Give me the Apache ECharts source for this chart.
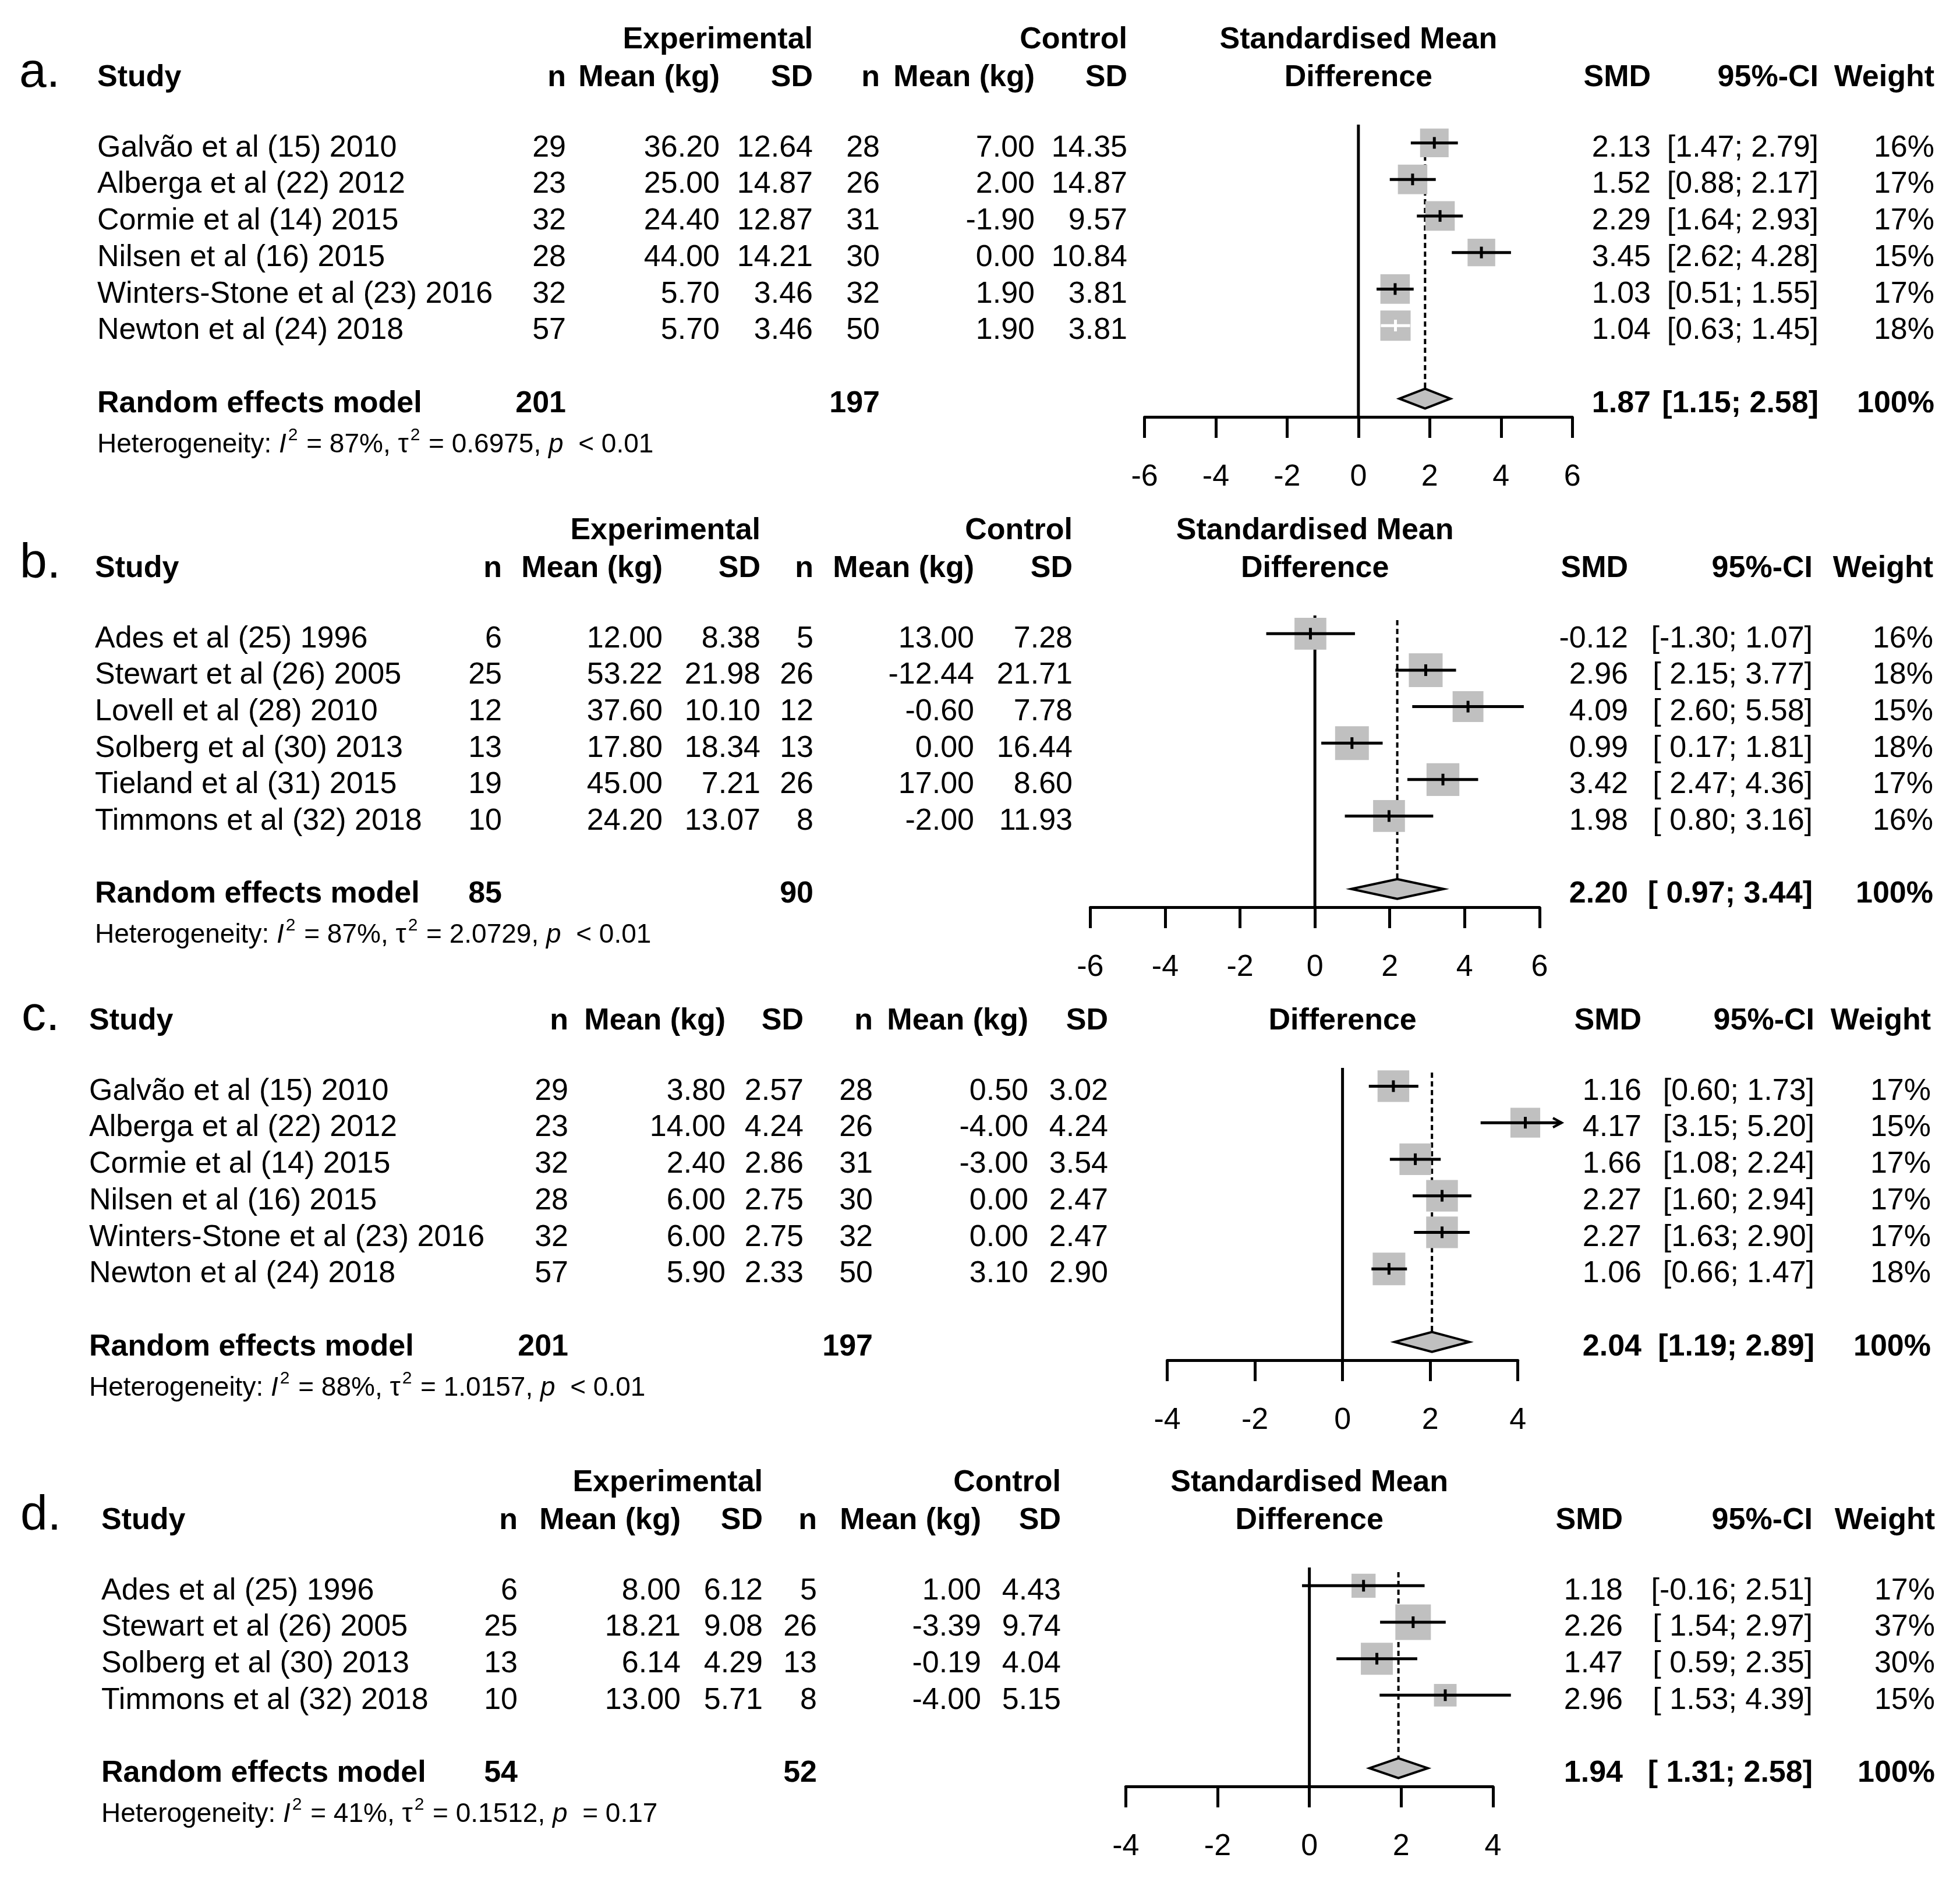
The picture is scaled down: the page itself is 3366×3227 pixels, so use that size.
<!DOCTYPE html>
<html><head><meta charset="utf-8">
<script src="https://cdn.jsdelivr.net/npm/echarts@6/dist/echarts.min.js"></script>
<style>html,body{margin:0;padding:0;background:#fff}#c{width:3366px;height:3227px}</style>
</head><body><div id="c"></div>
<script>
// ---------------- DATA ----------------
// Panel a
const studiesA = ["Galvão et al (15) 2010","Alberga et al (22) 2012","Cormie et al (14) 2015","Nilsen et al (16) 2015","Winters-Stone et al (23) 2016","Newton et al (24) 2018"];
const expNA = [29,23,32,28,32,57];
const expMeanA = [36.20,25.00,24.40,44.00,5.70,5.70];
const expSDA = [12.64,14.87,12.87,14.21,3.46,3.46];
const ctlNA = [28,26,31,30,32,50];
const ctlMeanA = [7.00,2.00,-1.90,0.00,1.90,1.90];
const ctlSDA = [14.35,14.87,9.57,10.84,3.81,3.81];
const smdA = [2.13,1.52,2.29,3.45,1.03,1.04];
const lowA = [1.47,0.88,1.64,2.62,0.51,0.63];
const upA = [2.79,2.17,2.93,4.28,1.55,1.45];
const weightA = [16,17,17,15,17,18];
const totalsA = [201,197];
const pooledA = [1.87,1.15,2.58];
const hetA = ["87%","0.6975","< 0.01"];
// Panel b
const studiesB = ["Ades et al (25) 1996","Stewart et al (26) 2005","Lovell et al (28) 2010","Solberg et al (30) 2013","Tieland et al (31) 2015","Timmons et al (32) 2018"];
const expNB = [6,25,12,13,19,10];
const expMeanB = [12.00,53.22,37.60,17.80,45.00,24.20];
const expSDB = [8.38,21.98,10.10,18.34,7.21,13.07];
const ctlNB = [5,26,12,13,26,8];
const ctlMeanB = [13.00,-12.44,-0.60,0.00,17.00,-2.00];
const ctlSDB = [7.28,21.71,7.78,16.44,8.60,11.93];
const smdB = [-0.12,2.96,4.09,0.99,3.42,1.98];
const lowB = [-1.30,2.15,2.60,0.17,2.47,0.80];
const upB = [1.07,3.77,5.58,1.81,4.36,3.16];
const weightB = [16,18,15,18,17,16];
const totalsB = [85,90];
const pooledB = [2.20,0.97,3.44];
const hetB = ["87%","2.0729","< 0.01"];
// Panel c
const studiesC = ["Galvão et al (15) 2010","Alberga et al (22) 2012","Cormie et al (14) 2015","Nilsen et al (16) 2015","Winters-Stone et al (23) 2016","Newton et al (24) 2018"];
const expNC = [29,23,32,28,32,57];
const expMeanC = [3.80,14.00,2.40,6.00,6.00,5.90];
const expSDC = [2.57,4.24,2.86,2.75,2.75,2.33];
const ctlNC = [28,26,31,30,32,50];
const ctlMeanC = [0.50,-4.00,-3.00,0.00,0.00,3.10];
const ctlSDC = [3.02,4.24,3.54,2.47,2.47,2.90];
const smdC = [1.16,4.17,1.66,2.27,2.27,1.06];
const lowC = [0.60,3.15,1.08,1.60,1.63,0.66];
const upC = [1.73,5.20,2.24,2.94,2.90,1.47];
const weightC = [17,15,17,17,17,18];
const totalsC = [201,197];
const pooledC = [2.04,1.19,2.89];
const hetC = ["88%","1.0157","< 0.01"];
// Panel d
const studiesD = ["Ades et al (25) 1996","Stewart et al (26) 2005","Solberg et al (30) 2013","Timmons et al (32) 2018"];
const expND = [6,25,13,10];
const expMeanD = [8.00,18.21,6.14,13.00];
const expSDD = [6.12,9.08,4.29,5.71];
const ctlND = [5,26,13,8];
const ctlMeanD = [1.00,-3.39,-0.19,-4.00];
const ctlSDD = [4.43,9.74,4.04,5.15];
const smdD = [1.18,2.26,1.47,2.96];
const lowD = [-0.16,1.54,0.59,1.53];
const upD = [2.51,2.97,2.35,4.39];
const weightD = [17,37,30,15];
const totalsD = [54,52];
const pooledD = [1.94,1.31,2.58];
const hetD = ["41%","0.1512","= 0.17"];

const colHeaders = ["Study","n","Mean (kg)","SD","n","Mean (kg)","SD","SMD","95%-CI","Weight"];
const groupHeaders = ["Experimental","Control","Standardised Mean","Difference"];
const modelLabel = "Random effects model";
const panelLabels = ["a.","b.","c.","d."];
const axisRanges = [[-6,6],[-6,6],[-4,4],[-4,4]];

// ---------------- LAYOUT ----------------
const FONT = "'Liberation Sans', Arial, Helvetica, sans-serif";
const layouts = [
  {grid:{left:1965.5,top:214,width:734.7,height:502}, labelX:33, sq:52, groups:true, arrowMax:null,
   cols:{study:167,expN:972,expMean:1236,expSD:1396,ctlN:1511,ctlMean:1777,ctlSD:1936,smd:2835,ci:3123,w:3322}},
  {grid:{left:1872.4,top:1057,width:771.5,height:501}, labelX:34, sq:58, groups:true, arrowMax:null,
   cols:{study:163,expN:862,expMean:1138,expSD:1306,ctlN:1397,ctlMean:1673,ctlSD:1842,smd:2796,ci:3113,w:3320}},
  {grid:{left:2004.5,top:1834,width:602.2,height:502}, labelX:37, sq:56, groups:false, arrowMax:5.0,
   cols:{study:153,expN:976,expMean:1246,expSD:1380,ctlN:1499,ctlMean:1766,ctlSD:1903,smd:2819,ci:3116,w:3316}},
  {grid:{left:1933.3,top:2692,width:630.7,height:376}, labelX:35, sq:61, groups:true, arrowMax:null,
   cols:{study:174,expN:889,expMean:1169,expSD:1310,ctlN:1403,ctlMean:1685,ctlSD:1822,smd:2787,ci:3113,w:3323}}
];

const panels = [
  {studies:studiesA,expN:expNA,expMean:expMeanA,expSD:expSDA,ctlN:ctlNA,ctlMean:ctlMeanA,ctlSD:ctlSDA,smd:smdA,low:lowA,up:upA,weight:weightA,totals:totalsA,pooled:pooledA,het:hetA},
  {studies:studiesB,expN:expNB,expMean:expMeanB,expSD:expSDB,ctlN:ctlNB,ctlMean:ctlMeanB,ctlSD:ctlSDB,smd:smdB,low:lowB,up:upB,weight:weightB,totals:totalsB,pooled:pooledB,het:hetB},
  {studies:studiesC,expN:expNC,expMean:expMeanC,expSD:expSDC,ctlN:ctlNC,ctlMean:ctlMeanC,ctlSD:ctlSDC,smd:smdC,low:lowC,up:upC,weight:weightC,totals:totalsC,pooled:pooledC,het:hetC},
  {studies:studiesD,expN:expND,expMean:expMeanD,expSD:expSDD,ctlN:ctlND,ctlMean:ctlMeanD,ctlSD:ctlSDD,smd:smdD,low:lowD,up:upD,weight:weightD,totals:totalsD,pooled:pooledD,het:hetD}
];

const FS = 52, TXT_DY = 9, GRAY = '#c0c0c0', LW = 5;
function txt(text, x, y, align, bold, size){
  return {type:'text', style:{text:String(text), x:x, y:y, align:align, verticalAlign:'middle',
    fontSize:size||FS, fontWeight:bold?'bold':'normal', fontFamily:FONT, fill:'#000'}};
}
function fmtCI(lo, hi, pad){
  const l = lo.toFixed(2);
  return '[' + (lo >= 0 && pad ? ' ' : '') + l + '; ' + hi.toFixed(2) + ']';
}

function headerRender(P, L, k){
  return function(params, api){
    const p0 = api.coord([0, 0.5]);
    const top = p0[1], y2 = top - 80, y1 = top - 145, C = L.cols;
    const ch = [];
    ch.push(txt(panelLabels[k], L.labelX, top - 88, 'left', false, 84));
    ch.push(txt(colHeaders[0], C.study, y2, 'left', true));
    ch.push(txt(colHeaders[1], C.expN, y2, 'right', true));
    ch.push(txt(colHeaders[2], C.expMean, y2, 'right', true));
    ch.push(txt(colHeaders[3], C.expSD, y2, 'right', true));
    ch.push(txt(colHeaders[4], C.ctlN, y2, 'right', true));
    ch.push(txt(colHeaders[5], C.ctlMean, y2, 'right', true));
    ch.push(txt(colHeaders[6], C.ctlSD, y2, 'right', true));
    ch.push(txt(colHeaders[7], C.smd, y2, 'right', true));
    ch.push(txt(colHeaders[8], C.ci, y2, 'right', true));
    ch.push(txt(colHeaders[9], C.w, y2, 'right', true));
    if (L.groups){
      ch.push(txt(groupHeaders[0], C.expSD, y1, 'right', true));
      ch.push(txt(groupHeaders[1], C.ctlSD, y1, 'right', true));
      ch.push(txt(groupHeaders[2], p0[0], y1, 'center', true));
    }
    ch.push(txt(groupHeaders[3], p0[0], y2, 'center', true));
    return {type:'group', children:ch};
  };
}

function refRender(P, L, n){
  return function(params, api){
    const est = api.value(0);
    const z0 = api.coord([0, 0.5]), z1 = api.coord([0, n + 2.5]);
    const d0 = api.coord([est, 0.5]), d1 = api.coord([est, n + 2]);
    return {type:'group', children:[
      {type:'line', shape:{x1:z0[0], y1:z0[1], x2:z1[0], y2:z1[1]}, style:{stroke:'#000', lineWidth:LW}},
      {type:'line', shape:{x1:d0[0], y1:d0[1] + 8, x2:d1[0], y2:d1[1] - 16}, style:{stroke:'#000', lineWidth:4, lineDash:[9,6]}}
    ]};
  };
}

function studyRender(P, L){
  const maxW = Math.max.apply(null, P.weight);
  const pad = P.low.some(v => v < 0) || P.pooled[1] < 0;
  return function(params, api){
    const i = params.dataIndex;
    const est = api.value(0), row = api.value(1), lo = api.value(2), hi = api.value(3), w = api.value(4);
    const c = api.coord([est, row]), pl = api.coord([lo, row]);
    let ph = api.coord([hi, row]);
    let arrow = false;
    if (L.arrowMax != null && hi > L.arrowMax){ ph = api.coord([L.arrowMax, row]); arrow = true; }
    const size = L.sq * Math.sqrt(w / maxW);
    const col = (ph[0] - pl[0]) < size ? '#fff' : '#000';
    const ch = [
      {type:'rect', shape:{x:c[0]-size/2, y:c[1]-size/2, width:size, height:size}, style:{fill:GRAY}},
      {type:'line', shape:{x1:pl[0], y1:c[1], x2:ph[0], y2:c[1]}, style:{stroke:col, lineWidth:LW}},
      {type:'line', shape:{x1:c[0], y1:c[1]-10, x2:c[0], y2:c[1]+10}, style:{stroke:col, lineWidth:LW}}
    ];
    if (arrow){
      ch.push({type:'polyline', shape:{points:[[ph[0]-15, c[1]-8],[ph[0], c[1]],[ph[0]-15, c[1]+8]]}, style:{stroke:'#000', fill:null, lineWidth:4}});
    }
    const y = c[1] + TXT_DY, C = L.cols;
    ch.push(txt(P.studies[i], C.study, y, 'left', false));
    ch.push(txt(P.expN[i], C.expN, y, 'right', false));
    ch.push(txt(P.expMean[i].toFixed(2), C.expMean, y, 'right', false));
    ch.push(txt(P.expSD[i].toFixed(2), C.expSD, y, 'right', false));
    ch.push(txt(P.ctlN[i], C.ctlN, y, 'right', false));
    ch.push(txt(P.ctlMean[i].toFixed(2), C.ctlMean, y, 'right', false));
    ch.push(txt(P.ctlSD[i].toFixed(2), C.ctlSD, y, 'right', false));
    ch.push(txt(est.toFixed(2), C.smd, y, 'right', false));
    ch.push(txt(fmtCI(lo, hi, pad), C.ci, y, 'right', false));
    ch.push(txt(w + '%', C.w, y, 'right', false));
    return {type:'group', children:ch};
  };
}

function modelRender(P, L){
  const pad = P.low.some(v => v < 0) || P.pooled[1] < 0;
  return function(params, api){
    const est = api.value(0), row = api.value(1), lo = api.value(2), hi = api.value(3);
    const c = api.coord([est, row]), pl = api.coord([lo, row]), ph = api.coord([hi, row]);
    const h = 17, C = L.cols, y = c[1] + TXT_DY;
    const ch = [
      {type:'polygon', shape:{points:[[pl[0], c[1]],[c[0], c[1]-h],[ph[0], c[1]],[c[0], c[1]+h]]},
       style:{fill:GRAY, stroke:'#000', lineWidth:4}},
      txt(modelLabel, C.study, y, 'left', true),
      txt(P.totals[0], C.expN, y, 'right', true),
      txt(P.totals[1], C.ctlN, y, 'right', true),
      txt(est.toFixed(2), C.smd, y, 'right', true),
      txt(fmtCI(lo, hi, pad), C.ci, y, 'right', true),
      txt('100%', C.w, y, 'right', true)
    ];
    const hs = 46;
    const base = {fontSize:hs, fontFamily:FONT, fill:'#000'};
    ch.push({type:'text', style:{
      text:'{n|Heterogeneity: }{i|I}{s|2}{n| = ' + P.het[0] + ', \u03c4}{s|2}{n| = ' + P.het[1] + ', }{i|p}{n|  ' + P.het[2] + '}',
      x:C.study, y:c[1] + 80, align:'left', verticalAlign:'middle', fontSize:hs, fontFamily:FONT, fill:'#000',
      rich:{
        n:Object.assign({}, base),
        i:Object.assign({}, base, {fontStyle:'italic'}),
        s:Object.assign({}, base, {fontSize:30, padding:[0,2,34,3]})
      }}});
    return {type:'group', children:ch};
  };
}

// ---------------- CHART ----------------
const grids = [], xAxes = [], yAxes = [], series = [];
panels.forEach(function(P, k){
  const L = layouts[k], n = P.studies.length;
  grids.push(Object.assign({outerBoundsMode:'none', containLabel:false}, L.grid));
  xAxes.push({gridIndex:k, type:'value', min:axisRanges[k][0], max:axisRanges[k][1], interval:2, position:'bottom',
    axisLine:{show:true, onZero:false, lineStyle:{color:'#000', width:LW}},
    axisTick:{show:true, length:36, lineStyle:{color:'#000', width:LW}},
    axisLabel:{fontSize:52, color:'#000', fontFamily:FONT, margin:78},
    splitLine:{show:false}});
  yAxes.push({gridIndex:k, type:'value', min:0.5, max:n + 2.5, inverse:true, show:false});
  series.push({type:'custom', xAxisIndex:k, yAxisIndex:k, z:1, clip:false, silent:true,
    data:[[P.pooled[0], 0]], renderItem:refRender(P, L, n)});
  series.push({type:'custom', xAxisIndex:k, yAxisIndex:k, z:2, clip:false, silent:true,
    data:P.smd.map((v, i) => [v, i + 1, P.low[i], P.up[i], P.weight[i]]), renderItem:studyRender(P, L)});
  series.push({type:'custom', xAxisIndex:k, yAxisIndex:k, z:3, clip:false, silent:true,
    data:[[P.pooled[0], n + 2, P.pooled[1], P.pooled[2]]], renderItem:modelRender(P, L)});
  series.push({type:'custom', xAxisIndex:k, yAxisIndex:k, z:3, clip:false, silent:true,
    data:[[0, 0.5]], renderItem:headerRender(P, L, k)});
});

const chart = echarts.init(document.getElementById('c'), null, {renderer:'canvas', width:3366, height:3227});
chart.setOption({
  backgroundColor:'#fff', animation:false,
  grid:grids, xAxis:xAxes, yAxis:yAxes, series:series
});
</script></body></html>
